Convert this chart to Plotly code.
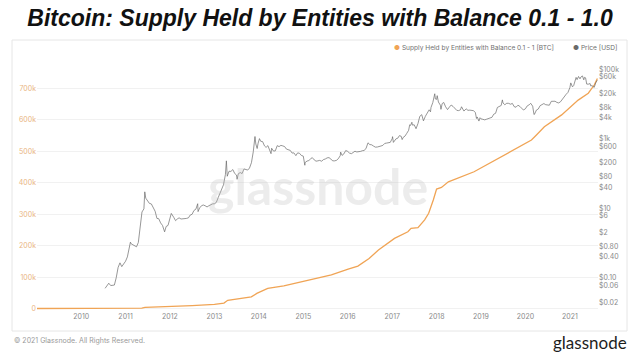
import plotly.graph_objects as go

# ---------------- data ----------------
supply_dates = [
    "2009-01-03", "2010-01-01", "2011-01-01", "2011-05-15", "2011-06-10", "2012-01-01",
    "2012-07-01", "2013-01-01", "2013-03-20", "2013-04-20", "2013-07-01", "2013-10-31",
    "2013-12-15", "2014-01-20", "2014-03-15", "2014-07-25", "2014-12-15", "2015-05-05",
    "2015-08-20", "2016-01-05", "2016-03-25", "2016-06-25", "2016-09-10", "2017-01-20",
    "2017-05-10", "2017-06-05", "2017-08-01", "2017-09-25", "2017-10-28", "2017-12-05",
    "2018-01-01", "2018-02-10", "2018-04-08", "2018-11-05", "2019-06-15", "2020-02-20",
    "2020-04-01", "2020-06-05", "2020-10-25", "2021-03-10", "2021-06-01", "2021-07-20",
    "2021-08-15",
]
supply_btc = [
    0, 200, 500, 1000, 3500, 6000,
    9000, 13000, 17000, 26000, 30000, 37000,
    48000, 54000, 64000, 72000, 85000, 96000,
    107000, 125000, 135000, 159000, 186000, 223000,
    244000, 255000, 257000, 282000, 303000, 345000,
    380000, 385000, 403000, 435000, 483000, 536000,
    552000, 578000, 616000, 663000, 685000, 711000,
    732000,
]

price_dates = [
    "2010-07-17", "2010-08-01", "2010-08-16", "2010-09-01", "2010-09-16", "2010-10-01",
    "2010-10-16", "2010-11-01", "2010-11-16", "2010-12-01", "2010-12-16",
    "2011-01-01", "2011-01-16", "2011-02-01", "2011-02-10", "2011-02-16", "2011-03-01",
    "2011-03-16", "2011-04-01", "2011-04-16", "2011-05-01", "2011-05-16", "2011-06-01",
    "2011-06-08", "2011-06-16", "2011-07-01", "2011-07-16", "2011-08-01", "2011-08-16",
    "2011-09-01", "2011-09-16", "2011-10-01", "2011-10-16", "2011-11-01", "2011-11-18",
    "2011-12-01", "2011-12-16",
    "2012-01-01", "2012-01-12", "2012-02-01", "2012-02-16", "2012-03-01", "2012-03-16",
    "2012-04-01", "2012-04-16", "2012-05-01", "2012-05-16", "2012-06-01", "2012-06-16",
    "2012-07-01", "2012-07-16", "2012-08-01", "2012-08-16", "2012-08-19", "2012-09-01",
    "2012-09-16", "2012-10-01", "2012-10-16", "2012-11-01", "2012-11-16", "2012-12-01",
    "2012-12-16",
    "2013-01-01", "2013-01-16", "2013-02-01", "2013-02-16", "2013-03-01", "2013-03-16",
    "2013-04-01", "2013-04-09", "2013-04-16", "2013-05-01", "2013-05-16", "2013-06-01",
    "2013-06-16", "2013-07-01", "2013-07-06", "2013-07-16", "2013-08-01", "2013-08-16",
    "2013-09-01", "2013-09-16", "2013-10-01", "2013-10-16", "2013-11-01", "2013-11-16",
    "2013-11-30", "2013-12-07", "2013-12-18", "2013-12-26",
    "2014-01-06", "2014-01-16", "2014-02-01", "2014-02-16", "2014-03-01", "2014-03-16",
    "2014-04-01", "2014-04-11", "2014-04-16", "2014-05-01", "2014-05-16", "2014-06-01",
    "2014-06-16", "2014-07-01", "2014-07-16", "2014-08-01", "2014-08-16", "2014-09-01",
    "2014-09-16", "2014-10-01", "2014-10-16", "2014-11-01", "2014-11-16", "2014-12-01",
    "2014-12-16",
    "2015-01-01", "2015-01-14", "2015-01-16", "2015-02-01", "2015-02-16", "2015-03-01",
    "2015-03-16", "2015-04-01", "2015-04-16", "2015-05-01", "2015-05-16", "2015-06-01",
    "2015-06-16", "2015-07-01", "2015-07-16", "2015-08-01", "2015-08-16", "2015-09-01",
    "2015-09-16", "2015-10-01", "2015-10-16", "2015-11-01", "2015-11-04", "2015-11-16",
    "2015-12-01", "2015-12-16",
    "2016-01-01", "2016-01-16", "2016-02-01", "2016-02-16", "2016-03-01", "2016-03-16",
    "2016-04-01", "2016-04-16", "2016-05-01", "2016-05-16", "2016-06-01", "2016-06-16",
    "2016-07-01", "2016-07-16", "2016-08-01", "2016-08-16", "2016-09-01", "2016-09-16",
    "2016-10-01", "2016-10-16", "2016-11-01", "2016-11-16", "2016-12-01", "2016-12-16",
    "2017-01-01", "2017-01-04", "2017-01-11", "2017-01-16", "2017-02-01", "2017-02-16",
    "2017-03-01", "2017-03-16", "2017-03-24", "2017-04-01", "2017-04-16", "2017-05-01",
    "2017-05-16", "2017-05-25", "2017-06-01", "2017-06-12", "2017-06-16", "2017-07-01",
    "2017-07-16", "2017-08-01", "2017-08-16", "2017-09-01", "2017-09-15", "2017-10-01",
    "2017-10-16", "2017-11-01", "2017-11-12", "2017-11-16", "2017-12-01", "2017-12-17",
    "2017-12-22",
    "2018-01-01", "2018-01-06", "2018-01-16", "2018-02-01", "2018-02-06", "2018-02-16",
    "2018-03-01", "2018-03-16", "2018-04-01", "2018-04-16", "2018-05-01", "2018-05-16",
    "2018-06-01", "2018-06-16", "2018-07-01", "2018-07-16", "2018-07-25", "2018-08-01",
    "2018-08-14", "2018-09-01", "2018-09-16", "2018-10-01", "2018-10-16", "2018-11-01",
    "2018-11-16", "2018-11-25", "2018-12-01", "2018-12-15", "2018-12-24",
    "2019-01-01", "2019-01-16", "2019-02-01", "2019-02-16", "2019-03-01", "2019-03-16",
    "2019-04-01", "2019-04-16", "2019-05-01", "2019-05-16", "2019-06-01", "2019-06-16",
    "2019-06-26", "2019-07-01", "2019-07-16", "2019-08-01", "2019-08-16", "2019-09-01",
    "2019-09-16", "2019-10-01", "2019-10-16", "2019-10-26", "2019-11-01", "2019-11-16",
    "2019-12-01", "2019-12-16",
    "2020-01-01", "2020-01-16", "2020-02-01", "2020-02-14", "2020-03-01", "2020-03-12",
    "2020-03-16", "2020-04-01", "2020-04-16", "2020-05-01", "2020-05-16", "2020-06-01",
    "2020-06-16", "2020-07-01", "2020-07-16", "2020-08-01", "2020-08-16", "2020-09-01",
    "2020-09-16", "2020-10-01", "2020-10-16", "2020-11-01", "2020-11-16", "2020-12-01",
    "2020-12-16",
    "2021-01-01", "2021-01-08", "2021-01-22", "2021-02-01", "2021-02-16", "2021-02-21",
    "2021-03-01", "2021-03-13", "2021-03-25", "2021-04-01", "2021-04-14", "2021-04-25",
    "2021-05-01", "2021-05-10", "2021-05-19", "2021-06-01", "2021-06-16", "2021-06-22",
    "2021-07-01", "2021-07-20", "2021-08-01", "2021-08-14",
]
price_usd = [
    0.05, 0.06, 0.07, 0.06, 0.062, 0.062,
    0.10, 0.20, 0.27, 0.21, 0.25,
    0.30, 0.40, 0.70, 1.06, 0.95, 0.90,
    0.87, 0.78, 1.04, 3.0, 7.8, 9.6,
    29.6, 19.5, 16.1, 13.8, 13.3, 10.9,
    8.2, 5.1, 5.0, 3.8, 3.2, 2.1,
    3.0, 3.2,
    4.7, 7.1, 5.5, 4.4, 4.9, 5.3,
    4.9, 4.9, 5.0, 5.1, 5.3, 6.4,
    6.7, 8.6, 9.4, 13.5, 8.0, 10.2,
    11.8, 12.4, 11.8, 10.9, 11.8, 12.6,
    13.3,
    13.5, 14.7, 20.4, 27, 33.4, 47,
    93, 230, 83, 116, 114, 129,
    100, 90, 68, 98, 106, 99,
    135, 127, 125, 143, 204, 420,
    1150, 700, 520, 745,
    1000, 840, 820, 620, 560, 630,
    478, 370, 530, 440, 445, 630,
    590, 640, 620, 590, 500, 480,
    460, 385, 390, 325, 390, 380,
    330,
    315, 172, 205, 227, 235, 260,
    285, 245, 225, 230, 237, 225,
    250, 260, 280, 285, 260, 230,
    230, 238, 265, 325, 410, 330,
    365, 455,
    430, 385, 370, 405, 435, 415,
    417, 430, 450, 455, 535, 760,
    675, 665, 610, 570, 575, 607,
    615, 640, 730, 745, 750, 780,
    1000, 1140, 780, 830, 985, 1030,
    1220, 1170, 940, 1080, 1180, 1420,
    1730, 2500, 2400, 2960, 2450, 2500,
    1930, 2720, 4380, 4890, 3250, 4400,
    5700, 6750, 5900, 7850, 10900, 19500,
    13800,
    13400, 17200, 11300, 9170, 6950, 10200,
    10950, 8270, 6840, 8060, 9240, 8460,
    7540, 6500, 6400, 6740, 8250, 7620,
    6200, 7200, 6500, 6600, 6500, 6370,
    5600, 3800, 4200, 3200, 4000,
    3700, 3600, 3460, 3620, 3810, 4000,
    4100, 5050, 5350, 7880, 8550, 8980,
    13000, 10600, 9430, 10400, 10350, 9760,
    10280, 8300, 8000, 9250, 9150, 8470,
    7400, 6640,
    7200, 8720, 9390, 10350, 8560, 4900,
    5030, 6640, 7090, 8860, 9380, 10200,
    9450, 9230, 9130, 11800, 11900, 11900,
    11000, 10620, 11500, 13750, 16700, 18800,
    21300,
    29400, 40000, 30800, 33500, 48900, 57500,
    49600, 61200, 52300, 58800, 63500, 49100,
    57800, 55900, 37000, 36700, 38300, 32500,
    33500, 29800, 39900, 47800,
]

year_ticks = [str(y) for y in range(2010, 2022)]
supply_ticks = [0, 100000, 200000, 300000, 400000, 500000, 600000, 700000]
supply_ticktext = ["0", "100k", "200k", "300k", "400k", "500k", "600k", "700k"]
price_ticks = [0.02, 0.06, 0.1, 0.4, 0.8, 2, 6, 10, 40, 80, 200, 600, 1000,
               4000, 8000, 20000, 60000, 100000]
price_ticktext = ["$0.02", "$0.06", "$0.10", "$0.40", "$0.80", "$2", "$6", "$10",
                  "$40", "$80", "$200", "$600", "$1k", "$4k", "$8k", "$20k",
                  "$60k", "$100k"]

# ---------------- layout geometry (page pixels) ----------------
W, H = 640, 360
L, R, T, B = 37, 42, 60, 49
PW = W - L - R
PH = H - T - B


def px(x):
    return (x - L) / PW


def py(y):
    return (H - B - y) / PH


ORANGE = "#f0a455"
PRICE = "#6a6a6a"
FONT = "Inter, Lato, 'Noto Sans', sans-serif"

fig = go.Figure()

fig.add_trace(go.Scatter(
    x=supply_dates, y=supply_btc, mode="lines",
    line=dict(color=ORANGE, width=1.3),
    name="Supply Held by Entities with Balance 0.1 - 1 [BTC]",
    showlegend=False, yaxis="y",
))
fig.add_trace(go.Scatter(
    x=price_dates, y=price_usd, mode="lines",
    line=dict(color=PRICE, width=0.7),
    name="Price [USD]", showlegend=False, yaxis="y2",
))

# card background
fig.add_shape(type="rect", xref="paper", yref="paper",
              x0=px(12), x1=px(627), y0=py(331), y1=py(40),
              line=dict(color="#e6e6e6", width=1), fillcolor="white",
              layer="below")

annotations = [
    # watermark
    dict(text="glassnode", x=px(318), y=py(186), xref="paper", yref="paper",
         xanchor="center", yanchor="middle",
         showarrow=False, font=dict(family="Lato, Inter, sans-serif", size=50,
                                    weight="bold",
                                    color="rgba(185,185,185,0.28)")),
    # legend
    dict(text=f"<span style='color:{ORANGE}'>●</span> Supply Held by Entities with Balance 0.1 - 1 [BTC]",
         x=px(556), y=py(48), xref="paper", yref="paper",
         xanchor="right", yanchor="middle",
         showarrow=False, font=dict(family=FONT, size=6.6, color="#6f6f6f")),
    dict(text=f"<span style='color:{PRICE}'>●</span> Price [USD]",
         x=px(619), y=py(48), xref="paper", yref="paper",
         xanchor="right", yanchor="middle",
         showarrow=False, font=dict(family=FONT, size=6.6, color="#6f6f6f")),
    # footer
    dict(text="© 2021 Glassnode. All Rights Reserved.",
         x=px(12), y=py(340), xref="paper", yref="paper",
         xanchor="left", yanchor="middle",
         showarrow=False, font=dict(family=FONT, size=7, color="#9a9a9a")),
    dict(text="glassnode",
         x=px(629), y=py(342), xref="paper", yref="paper",
         xanchor="right", yanchor="middle",
         showarrow=False, font=dict(family="Lato, Inter, sans-serif", size=17,
                                    color="#1e1e1e")),
]

fig.update_layout(
    width=W, height=H,
    margin=dict(l=L, r=R, t=T, b=B),
    paper_bgcolor="white", plot_bgcolor="white",
    showlegend=False,
    title=dict(text="Bitcoin: Supply Held by Entities with Balance 0.1 - 1.0",
               x=320 / W, xanchor="center", xref="container",
               y=1 - 18 / H, yanchor="middle", yref="container",
               font=dict(family="'Liberation Sans', Arial, sans-serif", size=23,
                         color="#111111", weight="bold", style="italic")),
    xaxis=dict(type="date", range=["2009-01-03", "2021-08-20"],
               tickvals=[f"{y}-01-01" for y in year_ticks], ticktext=year_ticks,
               tickfont=dict(family=FONT, size=7, color="#8a8a8a"),
               showgrid=False, zeroline=False, showline=False, ticks=""),
    yaxis=dict(range=[-8000, 790600], tickvals=supply_ticks,
               ticktext=supply_ticktext,
               tickfont=dict(family=FONT, size=7, color="#e9b583"),
               showgrid=True, gridcolor="#f1f1f1", gridwidth=1,
               zeroline=False, showline=False, ticks=""),
    yaxis2=dict(type="log", overlaying="y", side="right",
                range=[-1.953, 5.26], tickvals=price_ticks,
                ticktext=price_ticktext,
                tickfont=dict(family=FONT, size=7, color="#8a8a8a"),
                showgrid=False, zeroline=False, showline=False, ticks=""),
    annotations=annotations,
)

# remove the browser's default 8px body margin so the figure fills the window
fig.write_html("out.html", config={"displayModeBar": False},
               post_script="document.body.style.margin='0';")
